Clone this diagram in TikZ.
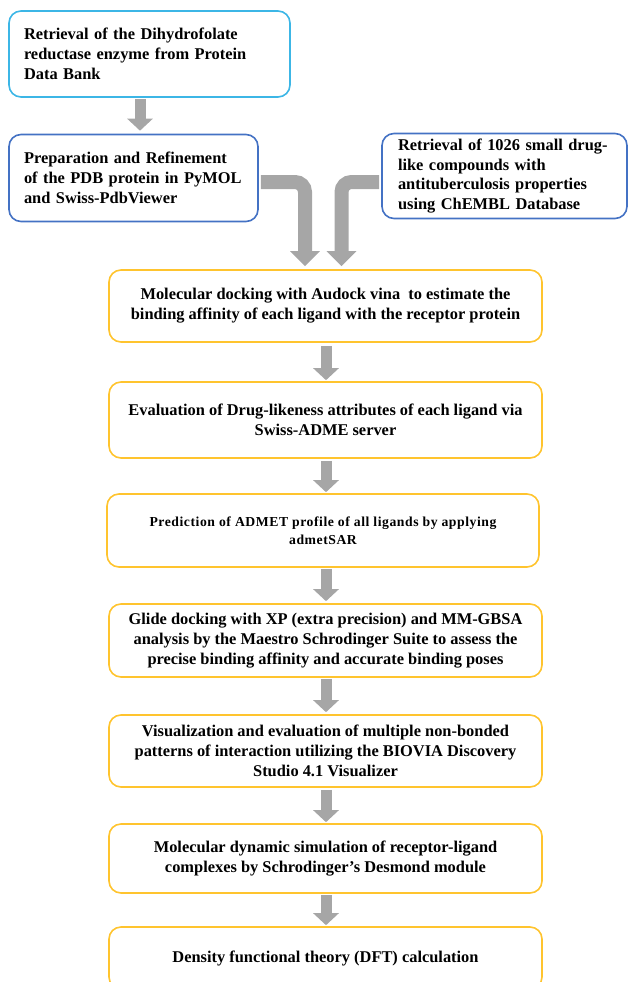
\documentclass[tikz,border=0pt]{standalone}
\usepackage{fontspec}
\setmainfont{Liberation Serif}
\usetikzlibrary{arrows.meta}
\definecolor{cyanb}{HTML}{3CB6E6}
\definecolor{blueb}{HTML}{4472C4}
\definecolor{goldb}{HTML}{FFC42E}
\definecolor{arrowg}{HTML}{A6A6A6}
\tikzset{
  box/.style={draw, line width=1.6pt, rounded corners=12pt, fill=white, inner sep=0pt,
    font=\fontsize{16.4}{19.8}\selectfont\bfseries},
  leftbox/.style={box, align=left},
  centerbox/.style={box, align=center, minimum width=433pt},
  varrow/.style={draw=arrowg, line width=11pt, -{Triangle[width=25pt,length=12pt]}},
  carrow/.style={draw=arrowg, line width=14pt, rounded corners=10pt, -{Triangle[width=29pt,length=15pt]}}
}
\begin{document}
\begin{tikzpicture}[x=1pt,y=1pt]
\useasboundingbox (0,0) rectangle (629,-982);
\node[leftbox, draw=cyanb, minimum width=281pt, minimum height=86pt, text width=251pt] (b1) at (149.5,-54)
  {Retrieval of the Dihydrofolate\\reductase enzyme from Protein\\Data Bank};
\node[leftbox, draw=blueb, minimum width=249pt, minimum height=87pt, text width=219pt] (b2) at (133.5,-178)
  {Preparation and Refinement\\of the PDB protein in PyMOL\\and Swiss-PdbViewer};
\node[leftbox, draw=blueb, minimum width=245pt, minimum height=85pt, text width=213pt] (b3) at (504.5,-176)
  {Retrieval of 1026 small drug-\\like compounds with\\antituberculosis properties\\using ChEMBL Database};
\node[centerbox, draw=goldb, minimum height=72pt] (b4) at (325.5,-306)
  {Molecular docking with Audock vina\ \ to estimate the\\binding affinity of each ligand with the receptor protein};
\node[centerbox, draw=goldb, minimum height=76pt] (b5) at (325.5,-420)
  {Evaluation of Drug-likeness attributes of each ligand via\\Swiss-ADME server};
\node[centerbox, draw=goldb, minimum width=432pt, minimum height=73pt,
  font=\fontsize{13.7}{18}\selectfont\bfseries\addfontfeatures{LetterSpace=4}] (b6) at (323,-530.5)
  {Prediction of ADMET profile of all ligands by applying\\admetSAR};
\node[centerbox, draw=goldb, minimum height=73pt] (b7) at (325.5,-640.5)
  {Glide docking with XP (extra precision) and MM-GBSA\\analysis by the Maestro Schrodinger Suite to assess the\\precise binding affinity and accurate binding poses};
\node[centerbox, draw=goldb, minimum height=72pt] (b8) at (325.5,-751)
  {Visualization and evaluation of multiple non-bonded\\patterns of interaction utilizing the BIOVIA Discovery\\Studio 4.1 Visualizer};
\node[centerbox, draw=goldb, minimum height=69pt] (b9) at (325.5,-858.5)
  {Molecular dynamic simulation of receptor-ligand\\complexes by Schrodinger's Desmond module};
\node[centerbox, draw=goldb, minimum height=62pt] (b10) at (325.5,-958)
  {Density functional theory (DFT) calculation};
% arrows
\draw[varrow, shorten <=1.5pt, shorten >=3pt] ([xshift=-9.5pt]b1.south) -- ([xshift=-9.5pt]b1.south |- b2.north);
\draw[carrow, shorten <=2pt, shorten >=3pt] ([yshift=-4pt]b2.east) -| ([xshift=-20.5pt]b4.north);
\draw[carrow, shorten <=2pt, shorten >=3pt] ([yshift=-6pt]b3.west) -| ([xshift=16pt]b4.north);
\draw[varrow, shorten <=3pt, shorten >=1pt] ([xshift=0.5pt]b4.south) -- ([xshift=0.5pt]b5.north);
\draw[varrow, shorten <=2pt, shorten >=1pt] ([xshift=0.5pt]b5.south) -- ([xshift=3pt]b6.north);
\draw[varrow, shorten <=1pt, shorten >=2pt] ([xshift=3pt]b6.south) -- ([xshift=0.5pt]b7.north);
\draw[varrow, shorten <=1pt, shorten >=2pt] ([xshift=0.5pt]b7.south) -- ([xshift=0.5pt]b8.north);
\draw[varrow, shorten <=2pt, shorten >=1pt] ([xshift=0.5pt]b8.south) -- ([xshift=0.5pt]b9.north);
\draw[varrow, shorten <=1pt, shorten >=1pt] ([xshift=0.5pt]b9.south) -- ([xshift=0.5pt]b10.north);
\end{tikzpicture}
\end{document}
